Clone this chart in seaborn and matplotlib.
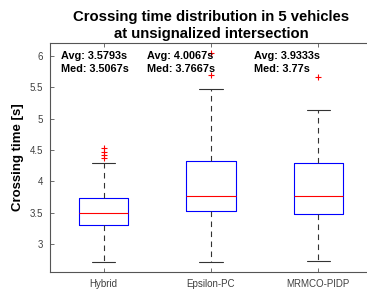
import numpy as np
import pandas as pd
import matplotlib
matplotlib.use("Agg")
import matplotlib.pyplot as plt
import seaborn as sns

# ---- data ----
methods = ["Hybrid", "Epsilon-PC", "MRMCO-PIDP"]
whisker_low = [2.72, 2.72, 2.73]
q1 = [3.31, 3.53, 3.48]
median = [3.50, 3.765, 3.765]
q3 = [3.73, 4.33, 4.29]
whisker_high = [4.30, 5.47, 5.14]
outliers = [[4.38, 4.42, 4.47, 4.53], [5.69, 6.04], [5.66]]
avg_vals = ["3.5793", "4.0067", "3.9333"]
med_vals = ["3.5067", "3.7667", "3.77"]

# build a sample per method whose box statistics equal the values above
rows = []
for i, m in enumerate(methods):
    vals = ([whisker_low[i]] + [q1[i]] * 10 + [median[i]] * 10 + [q3[i]] * 10
            + [whisker_high[i]] + list(outliers[i]))
    rows += [(m, v) for v in vals]
df = pd.DataFrame(rows, columns=["method", "time"])

sns.set_theme(style="white")
plt.rcParams["font.family"] = ["Liberation Sans", "DejaVu Sans"]

fig = plt.figure(figsize=(3.67, 2.91), dpi=100)
ax = fig.add_axes([50 / 367, 19.3 / 291, 322 / 367, 228.4 / 291])

sns.boxplot(data=df, x="method", y="time", order=methods, ax=ax,
            fill=False, width=0.46, whis=1.5,
            boxprops=dict(color="#0000FF", linewidth=0.8),
            medianprops=dict(color="#FF0000", linewidth=0.8),
            whiskerprops=dict(color="#333333", linewidth=0.8, linestyle=(0, (5, 4))),
            capprops=dict(color="#333333", linewidth=0.8),
            flierprops=dict(marker="+", markeredgecolor="#FF0000", markersize=5,
                            markeredgewidth=0.8, linestyle="none"),
            capwidths=0.22)

ax.set_xlim(-0.5, 2.5)
ax.set_ylim(2.56, 6.2)
ax.set_yticks([3, 3.5, 4, 4.5, 5, 5.5, 6])
ax.set_yticklabels(["3", "3.5", "4", "4.5", "5", "5.5", "6"])
ax.set_xlabel("")
ax.set_ylabel("Crossing time [s]", fontsize=9.5, fontweight="bold", color="black", labelpad=4)
ax.set_title("Crossing time distribution in 5 vehicles\nat unsignalized intersection",
             fontsize=10.7, fontweight="bold", color="black", pad=3.5, linespacing=1.3)

for s in ax.spines.values():
    s.set_visible(True)
    s.set_color("#555555")
    s.set_linewidth(0.8)
ax.tick_params(axis="both", direction="in", length=3, width=0.6, colors="#555555",
               labelsize=7, labelcolor="#404040", top=True, right=True, left=True, bottom=True)
ax.tick_params(axis="y", pad=5)
ax.tick_params(axis="x", pad=5)

text_x = [-0.4, 0.4, 1.4]
for i in range(len(methods)):
    ax.text(text_x[i], 5.944, f"Avg: {avg_vals[i]}s", fontsize=7.8, fontweight="bold",
            ha="left", va="baseline", color="black")
    ax.text(text_x[i], 5.737, f"Med: {med_vals[i]}s", fontsize=7.8, fontweight="bold",
            ha="left", va="baseline", color="black")

fig.savefig("out.png", dpi=100)
